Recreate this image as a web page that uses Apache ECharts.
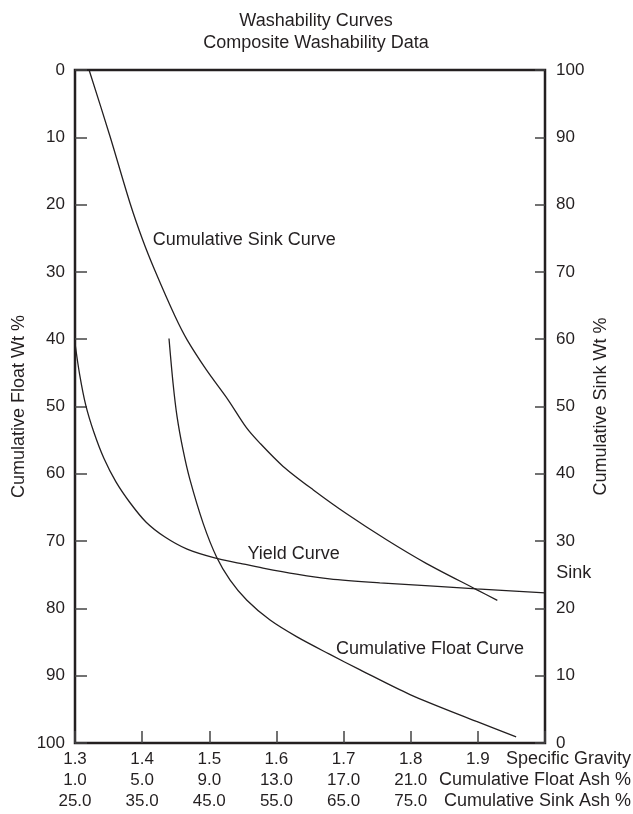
<!DOCTYPE html>
<html>
<head>
<meta charset="utf-8">
<script src="https://cdn.jsdelivr.net/npm/echarts@6/dist/echarts.min.js"></script>
<style>
  html, body { margin: 0; padding: 0; background: #fff; }
  #chart { width: 633px; height: 814px; }
</style>
</head>
<body>
<div id="chart"></div>
<script>
/* ── data ── */
const sgTicks = [1.3, 1.4, 1.5, 1.6, 1.7, 1.8, 1.9];
const floatAshLabels = ["1.0", "5.0", "9.0", "13.0", "17.0", "21.0"];
const sinkAshLabels = ["25.0", "35.0", "45.0", "55.0", "65.0", "75.0"];

// cumulative sink curve: specific gravity vs cumulative sink wt % (right axis)
const sinkSG = [1.321, 1.352, 1.382, 1.401, 1.419, 1.449, 1.467, 1.496, 1.528, 1.555, 1.575, 1.610, 1.655, 1.704, 1.764, 1.823, 1.898, 1.929];
const sinkWt = [100, 90.2, 80.2, 74.7, 70.2, 63.4, 59.9, 55.4, 51.0, 46.9, 44.6, 41.1, 37.6, 34.1, 30.2, 26.7, 22.8, 21.2];

// cumulative float curve: specific gravity vs cumulative float wt % (left axis)
const floatSG = [1.440, 1.446, 1.452, 1.461, 1.471, 1.491, 1.511, 1.531, 1.556, 1.590, 1.630, 1.679, 1.724, 1.799, 1.898, 1.957];
const floatWt = [39.9, 46.5, 51.5, 56.5, 60.8, 67.4, 72.4, 75.8, 78.8, 81.7, 84.2, 86.8, 89.1, 92.8, 96.8, 99.1];

// yield curve (left axis)
const yieldSG = [1.300, 1.307, 1.316, 1.328, 1.343, 1.361, 1.382, 1.406, 1.434, 1.467, 1.508, 1.546, 1.580, 1.630, 1.679, 1.754, 1.828, 1.898, 2.000];
const yieldWt = [40.6, 45.3, 49.8, 53.8, 57.7, 61.2, 64.3, 67.2, 69.4, 71.2, 72.5, 73.3, 74.0, 74.9, 75.6, 76.2, 76.65, 77.1, 77.7];

// curve captions, anchored in data space (SG, float wt %)
const captions = [
  [1.415, 25.3, "Cumulative Sink Curve"],
  [1.556, 71.9, "Yield Curve"],
  [1.688, 86.0, "Cumulative Float Curve"],
  [2.016, 74.7, "Sink"],
];

/* ── style ── */
const INK = "#231f20";
const TICK = "#444";
const FONT = "Liberation Sans, Arial, Helvetica, sans-serif";
const FS = 18;   // captions, titles, axis names
const TS = 17;   // tick labels

const chart = echarts.init(document.getElementById("chart"));

const zip = (xs, ys) => xs.map((x, i) => [x, ys[i]]);

// one bottom row: SG ticks, float ash or sink ash labels + its name at the right
function rowAxis(offset, labels, name, withTicks) {
  return {
    type: "value", min: 1.3, max: 2.0, interval: 0.1,
    position: "bottom", offset,
    axisLine: { show: false, onZero: false },
    axisTick: { show: withTicks, inside: true, length: 12, lineStyle: { color: TICK, width: 1.5 } },
    splitLine: { show: false },
    axisLabel: {
      color: INK, fontFamily: FONT, fontSize: TS, margin: 8,
      formatter: (v) => {
        const i = Math.round((v - 1.3) * 10);
        return labels[i] !== undefined ? labels[i] : "";
      },
    },
    name, nameLocation: "end", nameGap: 86, nameMoveOverlap: false,
    nameTextStyle: { color: INK, fontFamily: FONT, fontSize: FS, align: "right", verticalAlign: "top", padding: [7, 0, 0, 0] },
  };
}

const curve = (name, data, yAxisIndex) => ({
  name, type: "line", data, yAxisIndex,
  smooth: 0.3,
  symbol: "none",
  lineStyle: { color: INK, width: 1.3 },
  z: 3,
});

chart.setOption({
  animation: false,
  backgroundColor: "#fff",
  title: {
    text: "Washability Curves\nComposite Washability Data",
    left: 311, top: 5, textAlign: "center",
    textStyle: { color: INK, fontFamily: FONT, fontSize: FS, fontWeight: "normal", lineHeight: 22 },
  },
  grid: {
    left: 75, right: 88, top: 70, bottom: 71,
    outerBoundsMode: "none",
    show: true, borderColor: INK, borderWidth: 2.5, backgroundColor: "transparent",
  },
  xAxis: [
    rowAxis(0, sgTicks.map((v) => v.toFixed(1)), "Specific Gravity", true),
    rowAxis(21, floatAshLabels, "Cumulative Float Ash %", false),
    rowAxis(42, sinkAshLabels, "Cumulative Sink Ash %", false),
  ],
  yAxis: [
    {
      type: "value", min: 0, max: 100, interval: 10, inverse: true, position: "left",
      axisLine: { show: false, onZero: false },
      axisTick: { show: true, inside: true, length: 12, lineStyle: { color: TICK, width: 1.5 } },
      splitLine: { show: false },
      axisLabel: { color: INK, fontFamily: FONT, fontSize: TS, margin: 10 },
      name: "Cumulative Float Wt %", nameLocation: "middle", nameGap: 47, nameRotate: 90, nameMoveOverlap: false,
      nameTextStyle: { color: INK, fontFamily: FONT, fontSize: FS },
    },
    {
      type: "value", min: 0, max: 100, interval: 10, position: "right",
      axisLine: { show: false, onZero: false },
      axisTick: { show: true, inside: true, length: 10, lineStyle: { color: TICK, width: 1.5 } },
      splitLine: { show: false },
      axisLabel: { color: INK, fontFamily: FONT, fontSize: TS, margin: 11 },
      name: "Cumulative Sink Wt %", nameLocation: "middle", nameGap: 47, nameRotate: 90, nameMoveOverlap: false,
      nameTextStyle: { color: INK, fontFamily: FONT, fontSize: FS },
    },
  ],
  series: [
    curve("Cumulative Sink", zip(sinkSG, sinkWt), 1),
    curve("Cumulative Float", zip(floatSG, floatWt), 0),
    curve("Yield", zip(yieldSG, yieldWt), 0),
    {
      name: "captions", type: "scatter", yAxisIndex: 0,
      data: captions.map((c) => ({ value: [c[0], c[1]], text: c[2] })),
      symbolSize: 1, clip: false, silent: true, z: 5,
      itemStyle: { color: "rgba(0,0,0,0)", opacity: 1 },
      label: {
        show: true, position: "right", distance: 0, opacity: 1, textBorderWidth: 0,
        formatter: (p) => p.data.text,
        color: INK, fontFamily: FONT, fontSize: FS, align: "left", verticalAlign: "middle",
      },
    },
  ],
});
</script>
</body>
</html>
